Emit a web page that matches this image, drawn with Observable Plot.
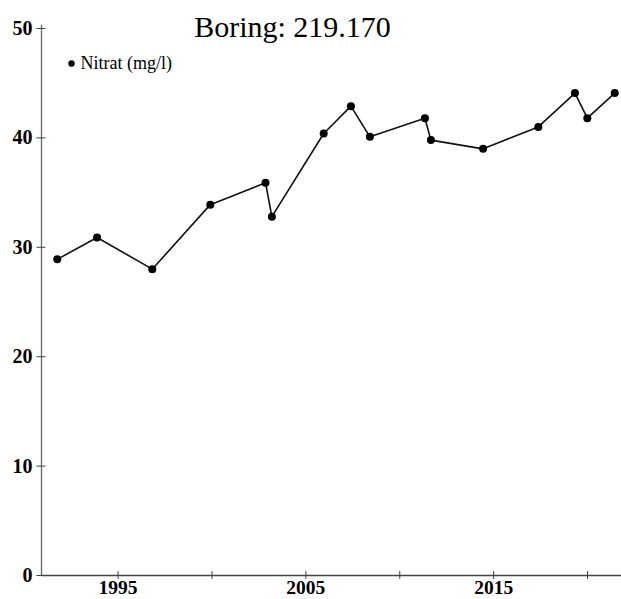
<!DOCTYPE html>
<html>
<head>
<meta charset="utf-8">
<script src="https://cdn.jsdelivr.net/npm/d3@7"></script>
<script src="https://cdn.jsdelivr.net/npm/@observablehq/plot@0.6"></script>
<style>
  html, body { margin: 0; padding: 0; background: #fff; }
  #chart svg { display: block; }
</style>
</head>
<body>
<div id="chart"></div>
<script>
const title = "Boring: 219.170";
const seriesName = "Nitrat (mg/l)";
// decimal year of each sample
const years = [1991.76, 1993.88, 1996.82, 1999.91, 2002.85, 2003.19, 2005.95, 2007.40,
               2008.41, 2011.34, 2011.66, 2014.44, 2017.38, 2019.33, 2019.99, 2021.45];
const nitrat = [28.9, 30.9, 28.0, 33.9, 35.9, 32.8, 40.4, 42.9,
                40.1, 41.8, 39.8, 39.0, 41.0, 44.1, 41.8, 44.1];
const xTicks = [1995, 2000, 2005, 2010, 2015, 2020];
const xTickLabels = [1995, 2005, 2015];
const yTicks = [0, 10, 20, 30, 40, 50];

const data = years.map((y, i) => ({year: y, value: nitrat[i]}));
const font = "'Liberation Serif', 'Times New Roman', serif";

const chart = Plot.plot({
  width: 621,
  height: 599,
  marginLeft: 41,
  marginRight: 0,
  marginTop: 28,
  marginBottom: 24,
  style: {fontFamily: font, background: "#fff", color: "#000"},
  x: {domain: [1990.92, 2021.81]},
  y: {domain: [0, 50]},
  marks: [
    Plot.ruleY([0], {stroke: "#444", strokeWidth: 1.3}),
    Plot.ruleX([1990.92], {y1: 0, y2: 50.3, stroke: "#666", strokeWidth: 1.3}),
    // crossing ticks
    Plot.axisX({ticks: xTicks, tickSize: 8, dy: -4, text: null, label: null, stroke: "#444"}),
    Plot.axisX({ticks: xTicks, tickSize: 0, tickPadding: 5, label: null,
      tickFormat: d => xTickLabels.includes(d) ? String(d) : "",
      fontSize: 19.5, fontWeight: "bold", fontFamily: font, fill: "#000"}),
    Plot.axisY({ticks: yTicks, tickSize: 9, dx: 4.5, text: null, label: null, stroke: "#444"}),
    Plot.axisY({ticks: yTicks, tickSize: 0, tickPadding: 9, label: null,
      fontSize: 20, fontWeight: "bold", fontFamily: font, fill: "#000"}),
    Plot.line(data, {x: "year", y: "value", stroke: "#111", strokeWidth: 1.6}),
    Plot.dot(data, {x: "year", y: "value", r: 4, fill: "#000", stroke: "none"}),
    // title
    Plot.text([title], {frameAnchor: "top-left", dx: 251, dy: -1.6, textAnchor: "middle",
      lineAnchor: "middle", fontSize: 30, fontFamily: font, fill: "#000"}),
    // legend
    Plot.dot([seriesName], {frameAnchor: "top-left", dx: 30, dy: 35, r: 3.2, fill: "#000", stroke: "none"}),
    Plot.text([seriesName], {frameAnchor: "top-left", dx: 39, dy: 35, textAnchor: "start",
      lineAnchor: "middle", fontSize: 18, fontFamily: font, fill: "#000"})
  ]
});
document.getElementById("chart").append(chart);
</script>
</body>
</html>
